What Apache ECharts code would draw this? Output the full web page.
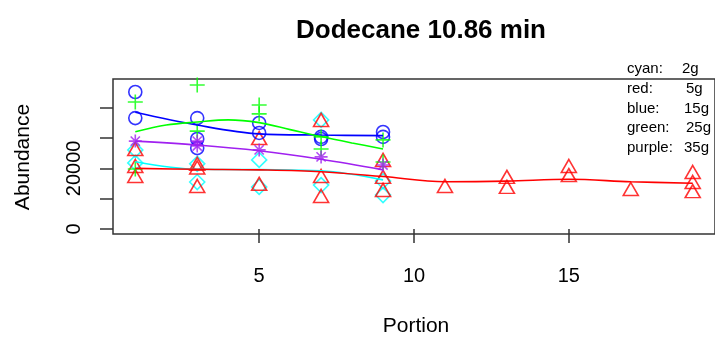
<!DOCTYPE html>
<html>
<head>
<meta charset="utf-8">
<script src="https://cdn.jsdelivr.net/npm/echarts@6/dist/echarts.min.js"></script>
<style>
  html, body { margin: 0; padding: 0; background: #fff; }
  #chart { width: 715px; height: 337px; }
</style>
</head>
<body>
<div id="chart"></div>
<script>
// portion / abundance pairs
const cyanPts = [[1, 26100], [1, 21800], [3, 21500], [3, 15500], [5, 22800], [5, 13900],
  [7, 36000], [7, 14500], [9, 15800], [9, 11200]];
const redPts = [[1, 26400], [1, 20800], [1, 17500], [3, 21500], [3, 20300], [3, 14200],
  [5, 30000], [5, 14900], [7, 36000], [7, 17500], [7, 10900], [9, 22800], [9, 17200],
  [9, 12900], [11, 14200], [13, 17200], [13, 13900], [15, 20800], [15, 17800],
  [17, 13200], [19, 18800], [19, 15500], [19, 12500]];
const bluePts = [[1, 45200], [1, 36600], [3, 36600], [3, 29700], [3, 26700], [5, 35000],
  [5, 31700], [7, 30400], [7, 29700], [9, 32000], [9, 30400]];
const greenPts = [[1, 41900], [1, 19800], [3, 47500], [3, 32300], [5, 40900], [5, 38000],
  [7, 30400], [7, 26400], [9, 29400], [9, 22100]];
const purplePts = [[1, 29000], [3, 29000], [3, 27400], [5, 26100], [7, 23800], [9, 21100]];

// smoothed curves
const cyanFit = [[1, 22200], [3, 19700], [5, 19600], [7, 19200], [9, 16200]];
const redFit = [[1, 20000], [3, 19700], [5, 19500], [7, 18900], [9, 17300], [11, 15600],
  [13, 15800], [15, 16400], [17, 15600], [19, 15100]];
const blueFit = [[1, 38500], [3, 34300], [5, 31400], [7, 31000], [9, 30800]];
const greenFit = [[1, 32100], [2, 34300], [3, 35300], [4, 36000], [5, 35100], [6, 32800],
  [7, 30500], [8, 28400], [9, 26400]];
const purpleFit = [[1, 29000], [3, 27700], [5, 25800], [7, 23000], [9, 19500]];

const xTicks = [5, 10, 15];
const yTicks = [0, 10000, 20000, 30000, 40000];
const yLabels = [0, 20000];
const legendNames = ['cyan:', 'red:', 'blue:', 'green:', 'purple:'];
const legendValues = ['2g', '5g', '15g', '25g', '35g'];

const FONT = '"Liberation Sans", Arial, Helvetica, sans-serif';
const AX = '#333';
const valueX = [682, 686, 684, 686, 684];

const PLUS = 'path://M5,0L5,10M0,5L10,5';
const STAR = 'path://M5,0L5,10M0,5L10,5M1.46,1.46L8.54,8.54M8.54,1.46L1.46,8.54';

function pts(data, color, symbol, size) {
  return {
    type: 'scatter', data, symbol, symbolSize: size, silent: true,
    itemStyle: { color: 'rgba(0,0,0,0)', borderColor: color, borderWidth: 1.6 }
  };
}
function fit(data, color) {
  return {
    type: 'line', data, smooth: 0.35, symbol: 'none', silent: true,
    lineStyle: { color, width: 1.6 }
  };
}

const chart = echarts.init(document.getElementById('chart'), null, { renderer: 'canvas' });

chart.setOption({
  animation: false,
  backgroundColor: '#fff',
  title: {
    text: 'Dodecane 10.86 min', left: 416, top: 13, textAlign: 'center',
    textStyle: { fontFamily: FONT, fontSize: 26, fontWeight: 'bold', color: '#000' }
  },
  grid: {
    left: 113, top: 79, width: 605, height: 155, show: true,
    borderColor: AX, borderWidth: 1.5, backgroundColor: 'transparent'
  },
  xAxis: {
    type: 'value', min: 0.28, max: 19.72,
    axisLine: { show: false },
    splitLine: { show: false },
    axisTick: { customValues: xTicks, length: 14, lineStyle: { color: AX, width: 1.5 } },
    axisLabel: { customValues: xTicks, margin: 32, fontFamily: FONT, fontSize: 20, color: '#000' }
  },
  yAxis: {
    type: 'value', min: -1650, max: 49500,
    axisLine: { show: false },
    splitLine: { show: false },
    axisTick: { customValues: yTicks, length: 13, lineStyle: { color: AX, width: 1.5 } },
    axisLabel: {
      customValues: yLabels, rotate: 90, margin: 29, fontFamily: FONT, fontSize: 20, color: '#000',
      formatter: v => String(v)
    }
  },
  graphic: [
    { type: 'text', x: 416, y: 326, style: { text: 'Portion', font: '21px ' + FONT, fill: '#000', textAlign: 'center', textVerticalAlign: 'middle' } },
    { type: 'text', x: 23, y: 157, rotation: Math.PI / 2, style: { text: 'Abundance', font: '21px ' + FONT, fill: '#000', textAlign: 'center', textVerticalAlign: 'middle' } }
  ].concat(legendNames.map((n, i) => ({
    type: 'text', x: 627, y: 69 + i * 19.7, z: 10,
    style: { text: n, font: '15px ' + FONT, fill: '#000', textAlign: 'left', textVerticalAlign: 'middle' }
  }))).concat(legendValues.map((v, i) => ({
    type: 'text', x: valueX[i], y: 69 + i * 19.7, z: 10,
    style: { text: v, font: '15px ' + FONT, fill: '#000', textAlign: 'left', textVerticalAlign: 'middle' }
  }))),
  series: [
    fit(cyanFit, '#00FFFF'),
    fit(redFit, '#FF0000'),
    fit(blueFit, '#0000FF'),
    fit(greenFit, '#00FF00'),
    fit(purpleFit, '#A020F0'),
    pts(cyanPts, '#00FFFF', 'diamond', 15),
    pts(redPts, '#FF0000', 'triangle', [15, 13]),
    pts(bluePts, '#0000FF', 'circle', 13),
    pts(greenPts, '#00FF00', PLUS, 15),
    pts(purplePts, '#A020F0', STAR, 13)
  ]
});
</script>
</body>
</html>
